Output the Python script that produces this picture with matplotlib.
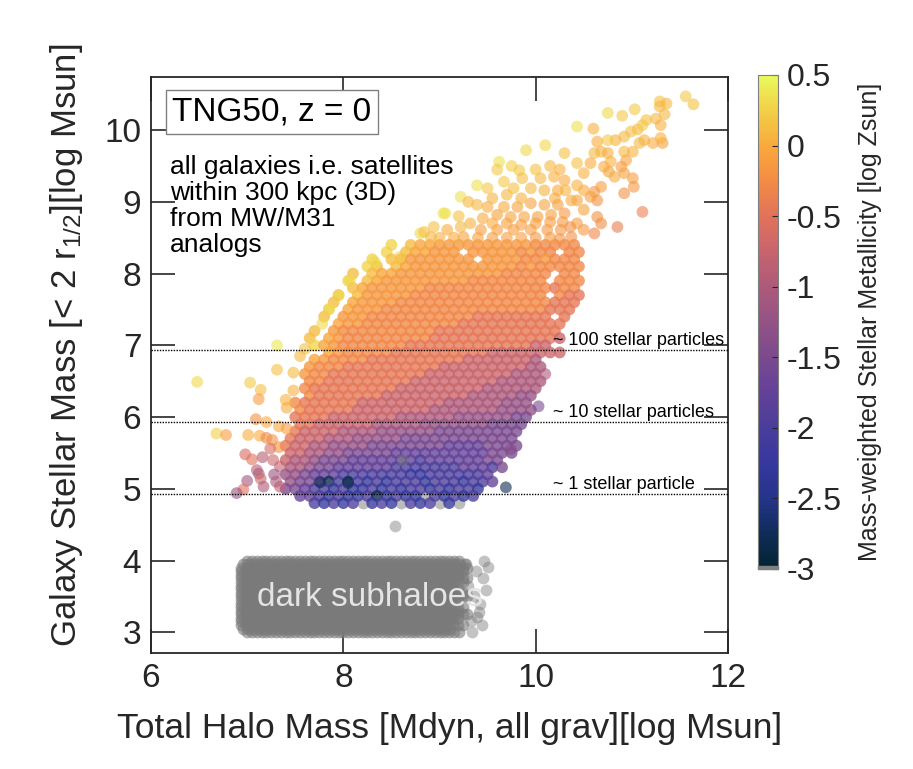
import numpy as np
import matplotlib
matplotlib.use('Agg')
import matplotlib.pyplot as plt
from matplotlib.colors import LinearSegmentedColormap, Normalize
from matplotlib.cm import ScalarMappable
from matplotlib.patches import Rectangle

plt.rcParams['font.family'] = ['Liberation Sans', 'DejaVu Sans']
plt.rcParams['mathtext.fontset'] = 'custom'
plt.rcParams['mathtext.rm'] = 'Liberation Sans'
plt.rcParams['mathtext.default'] = 'regular'

# ---------------- data ----------------
# metallicity level codes used in the dense-cloud rows
code_levels = {'0': -2.8, '1': -2.3, '2': -2.0, '3': -1.75, '4': -1.5, '5': -1.25,
               '6': -1.0, '7': -0.72, '8': -0.45, '9': -0.28, 'a': -0.15, 'b': -0.02,
               'c': 0.12, 'd': 0.27, 'e': 0.4, 'g': np.nan}

# dense cloud: row stellar mass, first halo-mass cell, codes per 0.1 dex cell
cloud_y = [8.4, 8.3, 8.2, 8.1, 8.0, 7.9, 7.8, 7.7, 7.6, 7.5, 7.4, 7.3, 7.2, 7.1, 7.0,
           6.9, 6.8, 6.7, 6.6, 6.5, 6.4, 6.3, 6.2, 6.1, 6.0, 5.9, 5.8, 5.7, 5.6, 5.5,
           5.4, 5.3, 5.2, 5.1, 5.0, 4.9, 4.8]
cloud_x0 = [8.5, 8.4, 8.3, 8.2, 8.1, 8.0, 8.0, 7.9, 7.9, 7.8, 7.8, 7.8, 7.7, 7.6, 7.7,
            7.8, 7.7, 7.6, 7.6, 7.6, 7.6, 7.6, 7.5, 7.5, 7.5, 7.5, 7.5, 7.4, 7.4, 7.4,
            7.4, 7.4, 7.4, 7.4, 7.4, 7.5, 7.7]
cloud_codes = [
    "d.cbbaaaaaaaaaa99999",
    "d.cbbaaa.aaaaa9a99.99",
    "d.cbaaaaaaa.aaaa99a999",
    "dc.cbaaaaaaaaaaa9a99999",
    "c.cbbaaaaaaaaaaa99999.99",
    "d.cbaaaaaaaaa99999999.999",
    ".cbaaaaaa9999999999999899",
    "d.caaaaa99999999999999.988",
    "c.baaaa9999999999999999888",
    "d.baaa99999999999999999888",
    "c.aaa9999999999988888888.8",
    ".baa999999999988888888888",
    "c.a99999999998888888888888",
    "c.ba99999999988888888888887",
    "dba9999999888888888888877",
    "ba99999888888888877777777",
    "ba9999888888888877777776",
    "a999888888888877777777766",
    "a998888888888777777777666",
    "9988888888877777777766666",
    "9888888888777777777666666",
    "988888887777777776666655",
    "9888888777777777666666555",
    "9888887777777766666665555",
    "8888777777766666655555544",
    "887777776666655555554444",
    "877776666555555444444444",
    "877766655555444444444444",
    "8776655554444444433334444",
    "776655444443333333333444",
    "76654443333333233333344",
    "66544333333222222233324",
    "5543332222222112222223",
    "5443020212122212221223",
    "443221211212122121221",
    "3321211201211g21212",
    "21212g121g212g1g",
]

# individual (sparser) galaxies: halo mass, stellar mass, metallicity
pt_x = [7.31, 6.48, 7.31, 7.48, 7.03, 7.14, 7.12, 7.48, 7.40, 7.41, 7.09, 7.20, 7.33, 7.41,
        6.68, 6.78, 7.01, 7.13, 7.20, 7.26, 7.33, 7.24, 6.98, 7.05, 7.16, 7.27, 7.10, 7.12,
        7.14, 7.00, 7.17, 6.96, 6.89, 7.34, 7.34, 7.28, 7.30, 7.55, 7.60,
        7.85, 8.07, 8.33, 8.59, 8.80, 9.04, 9.22, 7.78, 7.95,
        10.03, 9.69, 9.74, 10.10, 10.85, 11.11, 8.54, 8.61, 7.76, 8.05,
        11.29, 11.36, 11.56, 11.64, 11.29, 11.03, 10.90, 10.75, 11.34, 11.15, 11.25, 11.30,
        11.06, 10.99, 11.11, 10.92, 10.83, 10.75, 10.64, 10.61, 10.68, 10.75, 10.92, 11.01,
        11.08, 11.13, 11.22, 11.32, 11.30, 10.94, 10.89, 10.78, 10.71, 10.76, 10.82, 10.92,
        11.01, 11.02, 10.92, 10.68, 10.61, 10.64, 10.57, 10.64, 10.68, 10.61, 10.50, 10.43,
        10.50, 10.43, 10.50, 10.43, 10.37, 10.50, 10.57, 10.43, 10.30, 10.43, 10.10, 9.90,
        9.62, 9.83, 9.67, 9.86, 10.05, 10.19, 10.30, 9.95, 10.09, 10.23, 10.31, 9.77, 9.39,
        9.50, 9.39, 9.50, 9.67, 9.81, 9.95, 10.09, 10.23, 10.30, 10.16, 10.02, 9.88, 9.74,
        9.60, 9.45, 9.32, 9.22, 9.06, 8.94, 8.84, 8.91, 9.08, 9.25, 9.43, 9.60, 9.77, 9.95,
        10.12, 10.26, 10.37, 10.60, 9.60, 9.75, 10.00, 10.15, 10.25, 9.55, 9.70, 9.85,
        10.20, 9.30, 9.20, 9.55, 9.70, 9.85, 10.00, 10.15, 10.28, 10.36, 9.00, 9.15, 9.40,
        9.55, 9.70, 9.85, 10.00, 10.15, 10.25]
pt_y = [7.00, 6.49, 6.66, 6.62, 6.48, 6.38, 6.25, 6.37, 6.24, 6.13, 5.97, 5.93, 5.87, 5.84,
        5.77, 5.75, 5.75, 5.74, 5.71, 5.68, 5.58, 5.56, 5.48, 5.41, 5.44, 5.40, 5.26, 5.21,
        5.14, 5.11, 5.03, 4.99, 4.94, 5.03, 5.31, 5.20, 5.10, 6.85, 6.95,
        7.51, 7.91, 8.16, 8.23, 8.56, 8.84, 9.07, 7.30, 7.70,
        6.15, 5.02, 5.55, 6.60, 8.65, 8.86, 4.48, 5.40, 5.09, 5.08,
        10.40, 10.37, 10.47, 10.36, 10.33, 10.29, 10.20, 10.24, 10.22, 10.14, 10.16, 10.07,
        10.01, 9.98, 10.07, 9.91, 9.86, 9.86, 9.84, 9.68, 9.70, 9.68, 9.70, 9.70,
        9.82, 9.86, 9.82, 9.82, 9.89, 9.58, 9.49, 9.56, 9.49, 9.42, 9.35, 9.40,
        9.33, 9.21, 9.12, 9.21, 9.14, 9.02, 9.07, 8.79, 8.70, 8.56, 8.61, 8.70,
        8.89, 9.02, 9.16, 9.23, 9.02, 9.40, 9.54, 9.54, 9.68, 10.05, 9.79, 9.72,
        9.56, 9.44, 9.28, 9.33, 9.33, 9.35, 9.30, 9.19, 9.16, 9.16, 9.16, 9.19, 9.23,
        9.19, 8.96, 8.93, 8.93, 8.93, 8.98, 8.96, 8.96, 8.84, 8.82, 8.79, 8.79, 8.79,
        8.82, 8.77, 8.70, 8.65, 8.84, 8.65, 8.58, 8.51, 8.61, 8.51, 8.61, 8.61, 8.61, 8.61,
        8.61, 8.61, 8.51, 10.02, 9.45, 9.50, 9.45, 9.50, 9.45, 9.05, 9.10, 9.05,
        9.05, 9.00, 8.80, 8.70, 8.70, 8.68, 8.70, 8.72, 8.72, 8.65, 8.50, 8.50, 8.50,
        8.50, 8.50, 8.50, 8.50, 8.50, 8.48]
pt_z = [0.40, 0.30, 0.15, 0.10, 0.20, 0.15, -0.10, 0.05, 0.05, 0.00, -0.20, 0.00, 0.00, -0.10,
        0.25, -0.10, 0.00, 0.00, -0.30, -0.20, -0.20, -0.60, -0.60, -0.50, -0.90, -0.70, -0.90, -1.00,
        -0.70, -1.10, -1.00, -0.50, -1.20, -0.80, -0.80, -1.20, -1.00, 0.10, 0.15,
        0.30, 0.30, 0.30, 0.25, 0.30, 0.35, 0.35, 0.30, 0.25,
        -1.50, -2.80, -1.40, -1.00, -0.40, -0.35, np.nan, np.nan, -2.80, -2.80,
        0.15, 0.10, 0.20, 0.15, 0.10, 0.20, 0.20, 0.30, 0.10, 0.15, 0.10, 0.05,
        0.10, 0.15, 0.20, 0.10, 0.05, 0.20, 0.00, 0.10, 0.05, 0.00, 0.10, 0.05,
        0.10, 0.05, 0.00, -0.05, 0.05, -0.05, -0.10, 0.05, 0.00, -0.05, 0.00, -0.05,
        -0.10, -0.15, -0.20, -0.10, -0.15, -0.20, -0.10, -0.20, -0.25, -0.30, -0.15, -0.10,
        -0.05, -0.05, 0.00, 0.05, 0.00, 0.05, 0.00, 0.15, 0.15, 0.35, 0.30, 0.30,
        0.35, 0.20, 0.20, 0.15, 0.10, 0.05, 0.00, 0.10, 0.05, 0.00, 0.05, 0.15, 0.35,
        0.20, 0.10, 0.00, 0.00, -0.05, -0.05, -0.05, -0.10, -0.15, -0.05, -0.10, -0.05, -0.05,
        -0.05, 0.00, 0.05, 0.10, 0.35, 0.15, 0.15, 0.10, 0.00, -0.05, -0.10, -0.10, -0.10, -0.10,
        -0.15, -0.15, -0.20, 0.05, 0.20, 0.25, 0.15, 0.10, 0.05, 0.05, 0.10, 0.05,
        0.00, 0.10, 0.15, 0.00, -0.05, -0.10, -0.10, -0.10, -0.15, -0.20, 0.05, 0.00, -0.05,
        -0.10, -0.10, -0.10, -0.15, -0.15, -0.20]

# dark subhaloes (no stars): rows of the band
sub_y = [3.00, 3.05, 3.10, 3.15, 3.20, 3.25, 3.30, 3.35, 3.40, 3.45, 3.50,
         3.55, 3.60, 3.65, 3.70, 3.75, 3.80, 3.85, 3.90, 3.95, 4.00]
sub_xmin = [7.00, 6.96, 6.94, 6.94, 6.94, 6.94, 6.94, 6.94, 6.94, 6.94, 6.94,
            6.94, 6.94, 6.94, 6.94, 6.94, 6.94, 6.94, 6.94, 6.96, 7.00]
sub_xmax = [9.20, 9.10, 9.25, 9.15, 9.20, 9.30, 9.20, 9.25, 9.10, 9.20, 9.30,
            9.25, 9.20, 9.15, 9.25, 9.30, 9.20, 9.25, 9.30, 9.25, 9.20]
sub_extra_x = [9.50, 9.48, 9.39, 9.34, 9.45, 9.42, 9.38, 9.44, 9.30, 9.36, 9.41, 9.28, 9.33, 9.46]
sub_extra_y = [3.91, 3.59, 3.21, 3.00, 3.75, 3.40, 3.85, 3.10, 3.65, 3.50, 3.28, 3.95, 3.15, 4.00]

# particle-number thresholds (log of 1, 10, 100 stellar particles)
thresh_y = [4.93, 5.93, 6.93]
thresh_labels = ['~ 1 stellar particle', '~ 10 stellar particles', '~ 100 stellar particles']

cbar_ticks = [-3, -2.5, -2, -1.5, -1, -0.5, 0, 0.5]
cbar_ticklabels = ['-3', '-2.5', '-2', '-1.5', '-1', '-0.5', '0', '0.5']

# ---------------- colormap (thermal-like) ----------------
cmap = LinearSegmentedColormap.from_list('thermal_like', [
    (0.00, '#042333'), (0.07, '#0f2c58'), (0.143, '#25348a'), (0.214, '#36389e'),
    (0.286, '#4b3d9b'), (0.357, '#634198'), (0.429, '#7b4a8f'), (0.50, '#945285'),
    (0.571, '#ad5a7b'), (0.643, '#c7646d'), (0.714, '#e1725a'), (0.786, '#f38b45'),
    (0.857, '#f9a93c'), (0.929, '#f2cf48'), (1.00, '#e8fa5b')])
norm = Normalize(vmin=-3, vmax=0.5)
gray_pt = '#7a7a7a'
msize = 72

# ---------------- figure ----------------
fig = plt.figure(figsize=(9.13, 7.69), dpi=100)
ax = fig.add_axes([0.1654, 0.1508, 0.632, 0.749])

# dark subhaloes band
sx, sy = [], []
for y, x0, x1 in zip(sub_y, sub_xmin, sub_xmax):
    n = int(round((x1 - x0) / 0.05)) + 1
    for k in range(n):
        sx.append(x0 + 0.05 * k)
        sy.append(y)
ax.scatter(sx, sy, s=msize, color=gray_pt, alpha=0.6, linewidths=0, zorder=2)
ax.scatter(sub_extra_x, sub_extra_y, s=msize, color=gray_pt, alpha=0.45, linewidths=0, zorder=2)

# dense galaxy cloud
cx, cy, cz = [], [], []
for r, (y, x0, codes) in enumerate(zip(cloud_y, cloud_x0, cloud_codes)):
    off = 0.05 if r % 2 else 0.0
    for k, ch in enumerate(codes):
        if ch == '.':
            continue
        cx.append(x0 + 0.1 * k + off)
        cy.append(y)
        cz.append(code_levels[ch])
cx, cy, cz = np.array(cx), np.array(cy), np.array(cz)
good = ~np.isnan(cz)
ax.scatter(cx[~good], cy[~good], s=msize, color=gray_pt, alpha=0.5, linewidths=0, zorder=3)
ax.scatter(cx[good], cy[good], s=msize, c=cz[good], cmap=cmap, norm=norm, alpha=0.78,
           linewidths=0, zorder=3)

px, py, pz = np.array(pt_x), np.array(pt_y), np.array(pt_z)
pg = ~np.isnan(pz)
ax.scatter(px[~pg], py[~pg], s=msize, color=gray_pt, alpha=0.45, linewidths=0, zorder=4)
ax.scatter(px[pg], py[pg], s=msize, c=pz[pg], cmap=cmap, norm=norm, alpha=0.6,
           linewidths=0, zorder=4)

# threshold lines
for yv, lab in zip(thresh_y, thresh_labels):
    ax.axhline(yv, color='black', lw=1.0, ls=(0, (1, 1)), zorder=5)
    ax.text(10.18, yv + 0.07, lab, fontsize=13, color='black', ha='left', va='baseline', zorder=6)

ax.text(8.28, 3.36, 'dark subhaloes', fontsize=24, color='#e4e4e4', ha='center',
        va='baseline', zorder=6)

ax.text(6.22, 10.13, 'TNG50, z = 0', fontsize=24, color='black', ha='left', va='baseline',
        zorder=6, bbox=dict(boxstyle='square,pad=0.2', fc='white', ec='#808080', lw=1.0))
ax.text(6.2, 9.65, 'all galaxies i.e. satellites\nwithin 300 kpc (3D)\nfrom MW/M31\nanalogs',
        fontsize=19, color='black', ha='left', va='top', linespacing=1.1, zorder=6)

ax.set_xlim(6, 12)
ax.set_ylim(2.71, 10.74)
ax.set_xticks([6, 8, 10, 12])
ax.set_yticks([3, 4, 5, 6, 7, 8, 9, 10])
ax.tick_params(direction='in', length=17, width=1.2, top=True, right=True,
               labelsize=24, pad=7, colors='#262626')
for sp in ax.spines.values():
    sp.set_linewidth(1.3)
    sp.set_color('#262626')

ax.set_xlabel('Total Halo Mass [Mdyn, all grav][log Msun]', fontsize=25.5, color='#262626')
ax.set_ylabel('Galaxy Stellar Mass [< 2 r$_{1/2}$][log Msun]', fontsize=25, color='#262626')
ax.xaxis.set_label_coords(0.518, -0.103)
ax.yaxis.set_label_coords(-0.114, 0.535)

# colorbar
cax = fig.add_axes([0.8302, 0.2601, 0.0219, 0.6424])
cb = fig.colorbar(ScalarMappable(norm=norm, cmap=cmap), cax=cax)
cb.set_ticks(cbar_ticks)
cb.set_ticklabels(cbar_ticklabels)
cb.ax.tick_params(direction='in', length=4, width=0.8, labelsize=23, pad=6,
                  colors='#262626')
cb.outline.set_edgecolor('#7f7f7f')
cb.outline.set_linewidth(0.8)
cax.add_patch(Rectangle((0, 0), 1, 0.007, transform=cax.transAxes, color='#808080',
                        zorder=5, clip_on=False))
cb.set_label('Mass-weighted Stellar Metallicity [log Zsun]', fontsize=18, color='#262626',
             labelpad=12)

fig.savefig('out.png', dpi=100)
